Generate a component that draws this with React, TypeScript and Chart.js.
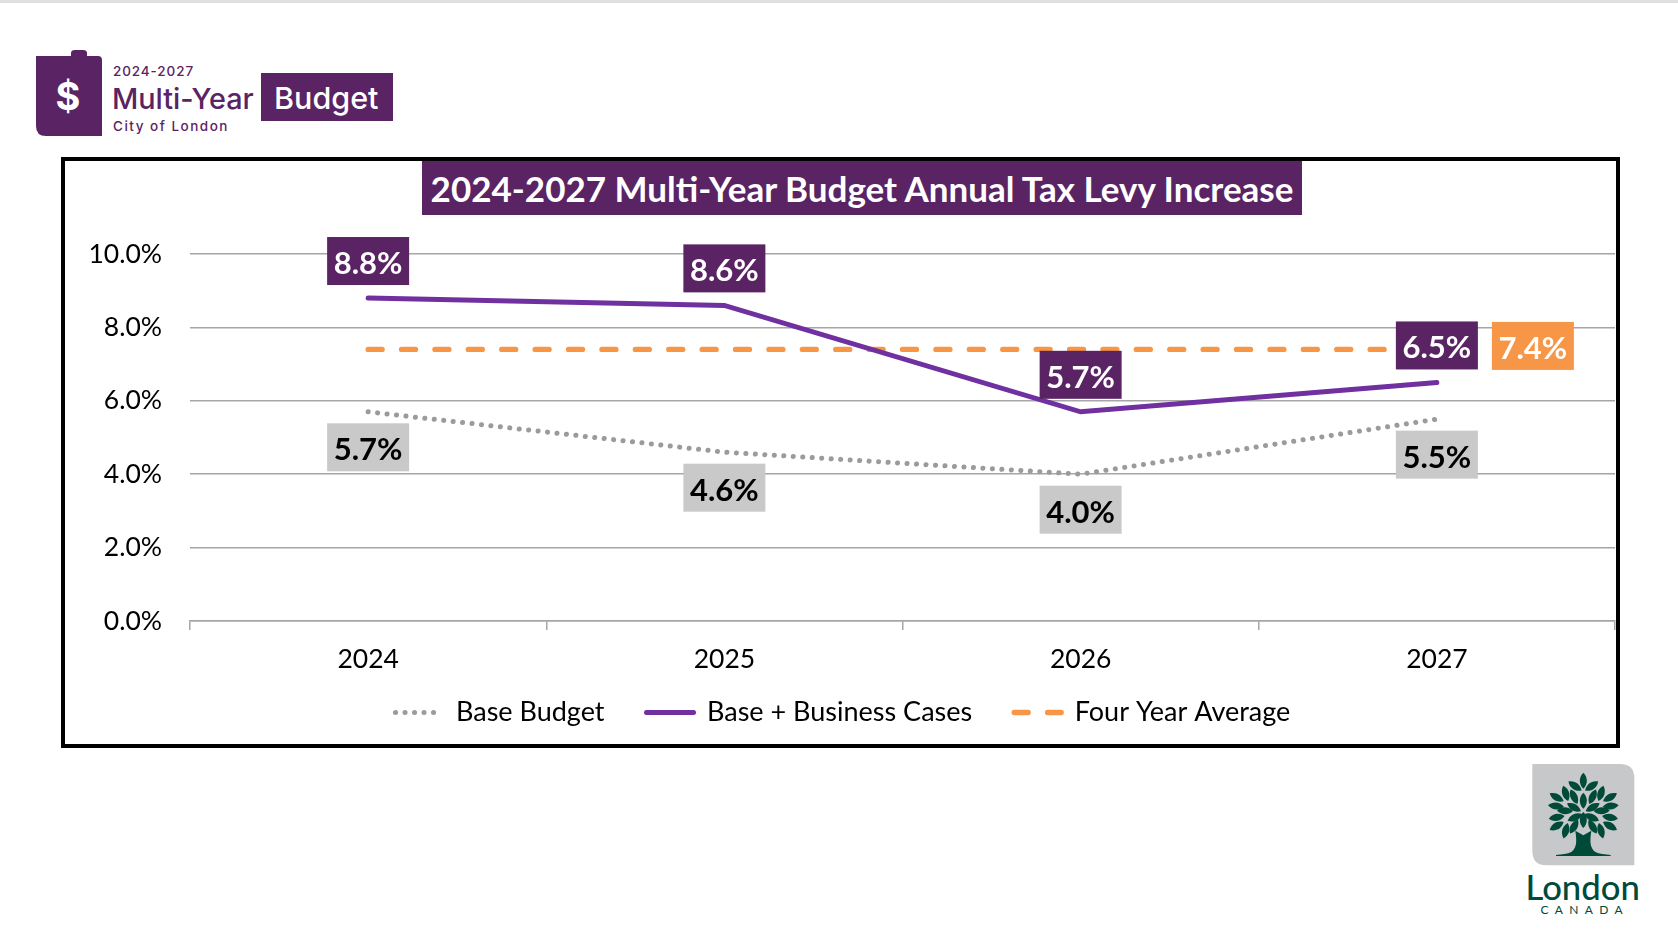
import { useEffect, useRef } from "react";
import Chart from "chart.js/auto";

const categories = ["2024", "2025", "2026", "2027"];
const baseBudget = [5.7, 4.6, 4.0, 5.5];
const businessCases = [8.8, 8.6, 5.7, 6.5];
const fourYearAverage = [7.4, 7.4, 7.4, 7.4];
const yTicks = [0, 2, 4, 6, 8, 10];

const PURPLE_DARK = "#5a2364";
const PURPLE_LINE = "#7030a0";
const ORANGE = "#f79646";
const GREY_LINE = "#9c9a9c";
const GREY_BOX = "#c9c9c9";
const GRID = "#a6a6a6";
const TREE = "#004a39";
const FONT = "Lato, sans-serif";

// half of the crown, mirrored round the trunk: cx, cy, tilt
const leaves = [
  [225, 78, -55], [197, 100, -18], [170, 112, -60], [168, 138, -85], [170, 172, -100],
  [170, 198, -120], [197, 212, -165], [222, 200, -150], [222, 110, -25], [222, 142, -60],
  [195, 152, -88], [225, 172, -115],
];
const midLeaves = [[250, 62], [250, 122], [250, 180]];
const LEAF = "M0 -24C14 -10 14 10 0 24C-14 10 -14 -10 0 -24Z";

// value boxes, drawn on top of the lines
const valueLabels = {
  id: "valueLabels",
  afterDatasetsDraw(chart: Chart) {
    const { ctx } = chart;
    const boxes = [
      { set: 0, fill: GREY_BOX, text: "#000", dy: 35.5, dx: 0, only: -1 },
      { set: 1, fill: PURPLE_DARK, text: "#fff", dy: -37, dx: 0, only: -1 },
      { set: 2, fill: ORANGE, text: "#fff", dy: -3.5, dx: 96, only: 3 },
    ];
    ctx.save();
    ctx.font = `bold 31px ${FONT}`;
    ctx.textAlign = "center";
    ctx.textBaseline = "middle";
    boxes.forEach((b) => {
      chart.getDatasetMeta(b.set).data.forEach((pt, i) => {
        if (b.only >= 0 && i !== b.only) return;
        const value = chart.data.datasets[b.set].data[i] as number;
        const cx = pt.x + b.dx;
        const cy = pt.y + b.dy;
        ctx.fillStyle = b.fill;
        ctx.fillRect(cx - 41, cy - 24, 82, 48);
        ctx.fillStyle = b.text;
        ctx.fillText(value.toFixed(1) + "%", cx, cy + 3);
      });
    });
    ctx.restore();
  },
};

// the legend keeps its wide item gaps but sits closer to the axis than the layout allows
const legendNudge = {
  id: "legendNudge",
  afterLayout(chart: Chart) {
    const legend = chart.legend;
    if (!legend) return;
    legend.top -= 18;
    legend.bottom -= 18;
    legend.left += 4.4;
    legend.right += 4.4;
  },
};

function TreeLogo() {
  return (
    <svg
      width={160}
      height={160}
      viewBox="0 0 480 480"
      style={{ position: "absolute", left: 1500, top: 760 }}
    >
      <path d="M97 12H360Q403 12 403 55V316H140Q97 316 97 273Z" fill="#c6c8ca" />
      {leaves.map(([x, y, a], i) => (
        <g key={i}>
          <path d={LEAF} fill={TREE} transform={`translate(${x} ${y}) rotate(${a})`} />
          <path d={LEAF} fill={TREE} transform={`translate(${500 - x} ${y}) rotate(${-a})`} />
        </g>
      ))}
      {midLeaves.map(([x, y], i) => (
        <path key={i} d={LEAF} fill={TREE} transform={`translate(${x} ${y})`} />
      ))}
      <path
        d="M226 212L250 226L274 212C270 240 268 262 286 276C297 282 315 283 332 285V288H168V285C185 283 203 282 214 276C232 262 230 240 226 212Z"
        fill={TREE}
      />
      <text x={248} y={420} textAnchor="middle" fill={TREE} fontFamily={FONT} fontWeight={500} fontSize={104}>
        London
      </text>
      <text x={254} y={463} textAnchor="middle" fill={TREE} fontFamily={FONT} fontSize={36} letterSpacing={19}>
        CANADA
      </text>
    </svg>
  );
}

function BudgetLogo() {
  const label = { fontFamily: "Inter, sans-serif", fill: PURPLE_DARK };
  return (
    <svg width={420} height={150} style={{ position: "absolute", left: 0, top: 0 }}>
      <path d="M36 56H71V53Q71 50 75 50H83Q87 50 87 53V56H98Q102 56 102 60V136H46Q36 136 36 126Z" fill={PURPLE_DARK} />
      <text x={68} y={110} textAnchor="middle" fill="#fff" fontFamily="Inter, sans-serif" fontWeight={700} fontSize={38}>
        $
      </text>
      <text x={113} y={76} {...label} fontWeight={500} fontSize={13.5} letterSpacing={0.9}>
        2024-2027
      </text>
      <text x={112} y={109} {...label} fontWeight={500} fontSize={28.8}>
        Multi-Year
      </text>
      <text x={113} y={131} {...label} fontWeight={500} fontSize={13.5} letterSpacing={1.5}>
        City of London
      </text>
      <rect x={261} y={73} width={132} height={48} fill={PURPLE_DARK} />
      <text x={274} y={109} fill="#fff" fontFamily="Inter, sans-serif" fontWeight={500} fontSize={30.5}>
        Budget
      </text>
    </svg>
  );
}

export default function App() {
  const chartRef = useRef<HTMLCanvasElement>(null);
  const chartInstance = useRef<Chart | null>(null);

  useEffect(() => {
    if (!chartRef.current) return;

    chartInstance.current = new Chart(chartRef.current, {
      type: "line",
      data: {
        labels: categories,
        datasets: [
          {
            label: "Base Budget",
            data: baseBudget,
            borderColor: GREY_LINE,
            backgroundColor: GREY_LINE,
            borderWidth: 5,
            borderDash: [0.1, 9.4],
            borderCapStyle: "round",
          },
          {
            label: "Base + Business Cases",
            data: businessCases,
            borderColor: PURPLE_LINE,
            backgroundColor: PURPLE_LINE,
            borderWidth: 5,
            borderCapStyle: "round",
          },
          {
            label: "Four Year Average",
            data: fourYearAverage,
            borderColor: ORANGE,
            backgroundColor: ORANGE,
            borderWidth: 5.3,
            borderDash: [14, 19.4],
            borderCapStyle: "round",
          },
        ],
      },
      options: {
        responsive: false,
        animation: false,
        layout: { padding: { top: 104, right: 8, left: 0, bottom: 0 } },
        elements: { point: { radius: 0 }, line: { tension: 0 } },
        scales: {
          x: {
            offset: true,
            border: { color: GRID, width: 1.5 },
            grid: { offset: true, drawOnChartArea: false, color: GRID, lineWidth: 1.5, tickLength: 9 },
            ticks: { color: "#000", font: { family: FONT, size: 26.5 }, padding: 13.2, maxRotation: 0, autoSkip: false },
            afterFit: (s) => {
              s.height = 54;
            },
          },
          y: {
            min: 0,
            max: 10,
            afterBuildTicks: (s) => {
              s.ticks = yTicks.map((value) => ({ value }));
            },
            border: { display: false },
            grid: { color: GRID, lineWidth: 1.5, drawTicks: false },
            ticks: {
              color: "#000",
              font: { family: FONT, size: 26.5 },
              padding: 28,
              callback: (v) => Number(v).toFixed(1) + "%",
            },
            afterFit: (s) => {
              s.width = 128;
            },
          },
        },
        plugins: {
          title: { display: false },
          tooltip: { enabled: false },
          legend: {
            position: "bottom",
            labels: {
              usePointStyle: true,
              pointStyleWidth: 47,
              boxHeight: 26,
              padding: 42,
              color: "#000",
              font: { family: FONT, size: 27 },
              generateLabels: (chart) =>
                chart.data.datasets.map((ds: any, i) => ({
                  text: ds.label,
                  datasetIndex: i,
                  pointStyle: "line",
                  fillStyle: ds.borderColor,
                  strokeStyle: ds.borderColor,
                  lineWidth: ds.borderWidth,
                  lineDash: ds.borderDash || [],
                  lineCap: "round",
                })),
            },
          },
        },
      },
      plugins: [valueLabels, legendNudge],
    });

    return () => {
      if (chartInstance.current) {
        chartInstance.current.destroy();
      }
    };
  }, []);

  return (
    <div style={{ position: "absolute", left: 0, top: 0, width: 1678, height: 949, background: "#fff", overflow: "hidden" }}>
      <div style={{ position: "absolute", left: 0, top: 0, width: 1678, height: 3, background: "#e0e0e0" }} />
      <BudgetLogo />
      <div
        style={{
          position: "absolute",
          left: 61,
          top: 157,
          width: 1559,
          height: 591,
          boxSizing: "border-box",
          border: "4px solid #000",
        }}
      />
      <canvas ref={chartRef} width={1561} height={604} style={{ position: "absolute", left: 62, top: 150 }} />
      <div
        style={{
          position: "absolute",
          left: 422,
          top: 161,
          width: 880,
          height: 54,
          background: PURPLE_DARK,
          color: "#fff",
          font: `bold 35px ${FONT}`,
          lineHeight: "54px",
          textAlign: "center",
          whiteSpace: "nowrap",
        }}
      >
        2024-2027 Multi-Year Budget Annual Tax Levy Increase
      </div>
      <TreeLogo />
    </div>
  );
}
